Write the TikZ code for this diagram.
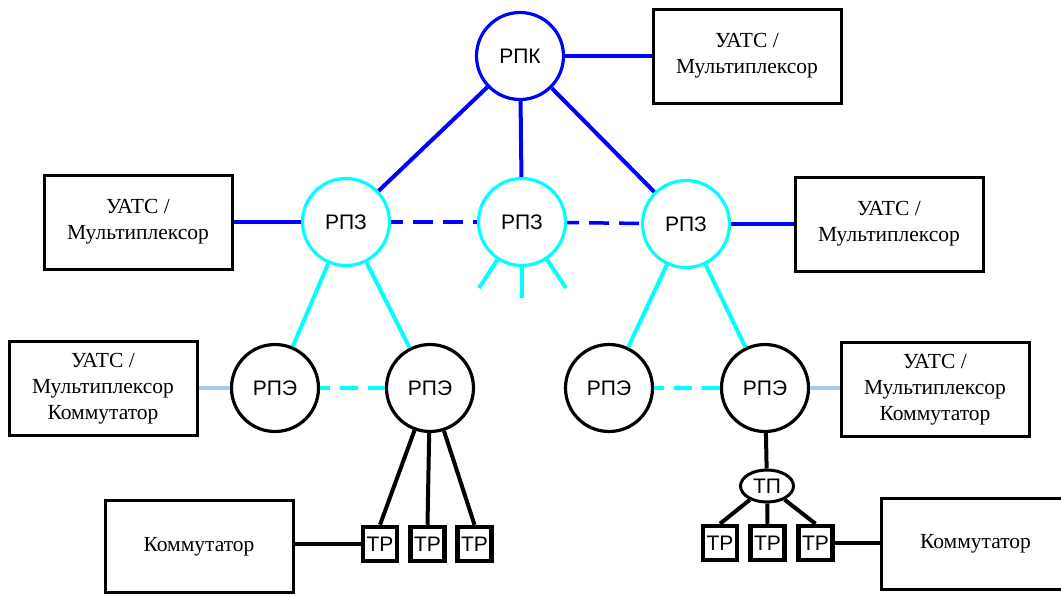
\documentclass[tikz,border=0pt]{standalone}
\usepackage{fontspec}
\setmainfont{Liberation Serif}
\setsansfont{Liberation Sans}
\usetikzlibrary{shapes.geometric}
\definecolor{cBlue}{RGB}{0,0,255}
\definecolor{cCyan}{RGB}{0,255,255}
\definecolor{cLight}{RGB}{166,202,240}
\begin{document}
\begin{tikzpicture}[x=1pt,y=-1pt,
  hub/.style={circle, draw, line width=3.2pt, minimum size=87pt, inner sep=0pt, font=\sffamily\fontsize{21}{25}\selectfont},
  rpk/.style={hub, draw=cBlue},
  rpz/.style={hub, draw=cCyan},
  rpe/.style={hub, draw=black},
  unit/.style={draw, line width=3pt, minimum width=188pt, minimum height=94pt, inner sep=0pt, align=center, font=\fontsize{21.5}{26}\selectfont},
  trbox/.style={draw, line width=4.5pt, minimum size=34pt, inner sep=0pt, font=\sffamily\fontsize{21}{25}\selectfont},
  tpnode/.style={ellipse, draw, line width=3pt, minimum width=53pt, minimum height=32pt, inner sep=0pt, font=\sffamily\fontsize{21}{25}\selectfont},
  blueline/.style={draw=cBlue, line width=4pt},
  bluedash/.style={draw=cBlue, line width=3.5pt, dash pattern=on 20pt off 10pt, dash phase=8pt},
  cyanline/.style={draw=cCyan, line width=4pt},
  cyandash/.style={draw=cCyan, line width=3.5pt, dash pattern=on 18pt off 10pt, dash phase=8pt},
  lightline/.style={draw=cLight, line width=4pt},
  blackline/.style={draw=black, line width=4pt},
  kline/.style={draw=black, line width=3.5pt}
]
\useasboundingbox (0,0) rectangle (1061,595);
\clip (0,0) rectangle (1061,595);

% top level
\node[rpk] (k) at (520,56) {РПК};
\node[unit] (tu) at (747,56) {УАТС /\\Мультиплексор};

% second level
\node[rpz] (z1) at (346,222) {РПЗ};
\node[rpz] (z2) at (522,222) {РПЗ};
\node[rpz] (z3) at (686,224) {РПЗ};
\node[unit] (lu) at (138,222) {УАТС /\\Мультиплексор};
\node[unit] (ru) at (889,224) {УАТС /\\Мультиплексор};

% third level
\node[rpe] (e1) at (275,388) {РПЭ};
\node[rpe] (e2) at (430,388) {РПЭ};
\node[rpe] (e3) at (609,388) {РПЭ};
\node[rpe] (e4) at (765,388) {РПЭ};
\node[unit] (l3l) at (103,388.5) {УАТС /\\Мультиплексор\\Коммутатор};
\node[unit] (l3r) at (935,389.5) {УАТС /\\Мультиплексор\\Коммутатор};

% terminals left
\node[trbox] (t1) at (380,544) {ТР};
\node[trbox] (t2) at (427.5,544) {ТР};
\node[trbox] (t3) at (474.5,544) {ТР};
\node[unit, minimum height=92pt] (kl) at (199,546.5) {Коммутатор};

% terminals right
\node[tpnode] (tp) at (767,486) {ТП};
\node[trbox] (t4) at (720,543) {ТР};
\node[trbox] (t5) at (767.5,543) {ТР};
\node[trbox] (t6) at (815.5,543) {ТР};
\node[unit, minimum height=91pt] (kr) at (975.5,544) {Коммутатор};

% stubs under middle РПЗ
\coordinate (s1) at (479,288);
\coordinate (s2) at (522,298);
\coordinate (s3) at (566,288);

% blue links
\draw[blueline] (k) -- (k -| tu.west);
\draw[blueline] (k) -- (z1);
\draw[blueline] (k) -- (z2);
\draw[blueline] (k) -- (z3);
\draw[blueline] (z1) -- (z1 -| lu.east);
\draw[blueline] (z3) -- (z3 -| ru.west);
\draw[bluedash] (z1) -- (z2);
\draw[bluedash] (z2) -- (z3);

% cyan links
\draw[cyanline] (z1) -- (e1);
\draw[cyanline] (z1) -- (e2);
\draw[cyanline] (z3) -- (e3);
\draw[cyanline] (z3) -- (e4);
\draw[cyanline] (z2) -- (s1);
\draw[cyanline] (z2) -- (s2);
\draw[cyanline] (z2) -- (s3);
\draw[cyandash] (e1) -- (e2);
\draw[cyandash] (e3) -- (e4);

% light blue links
\draw[lightline] (e1) -- (e1 -| l3l.east);
\draw[lightline] (e4) -- (e4 -| l3r.west);

% black links
\draw[blackline] (e2) -- (t1.north);
\draw[blackline] (e2) -- (t2.north);
\draw[blackline] (e2) -- (t3.north);
\draw[kline] (t1.west) -- (t1.west -| kl.east);
\draw[blackline] (e4) -- (tp);
\draw[blackline] (tp) -- (t4.north);
\draw[blackline] (tp) -- (t5.north);
\draw[blackline] (tp) -- (t6.north);
\draw[kline] (t6.east) -- (t6.east -| kr.west);
\end{tikzpicture}
\end{document}
